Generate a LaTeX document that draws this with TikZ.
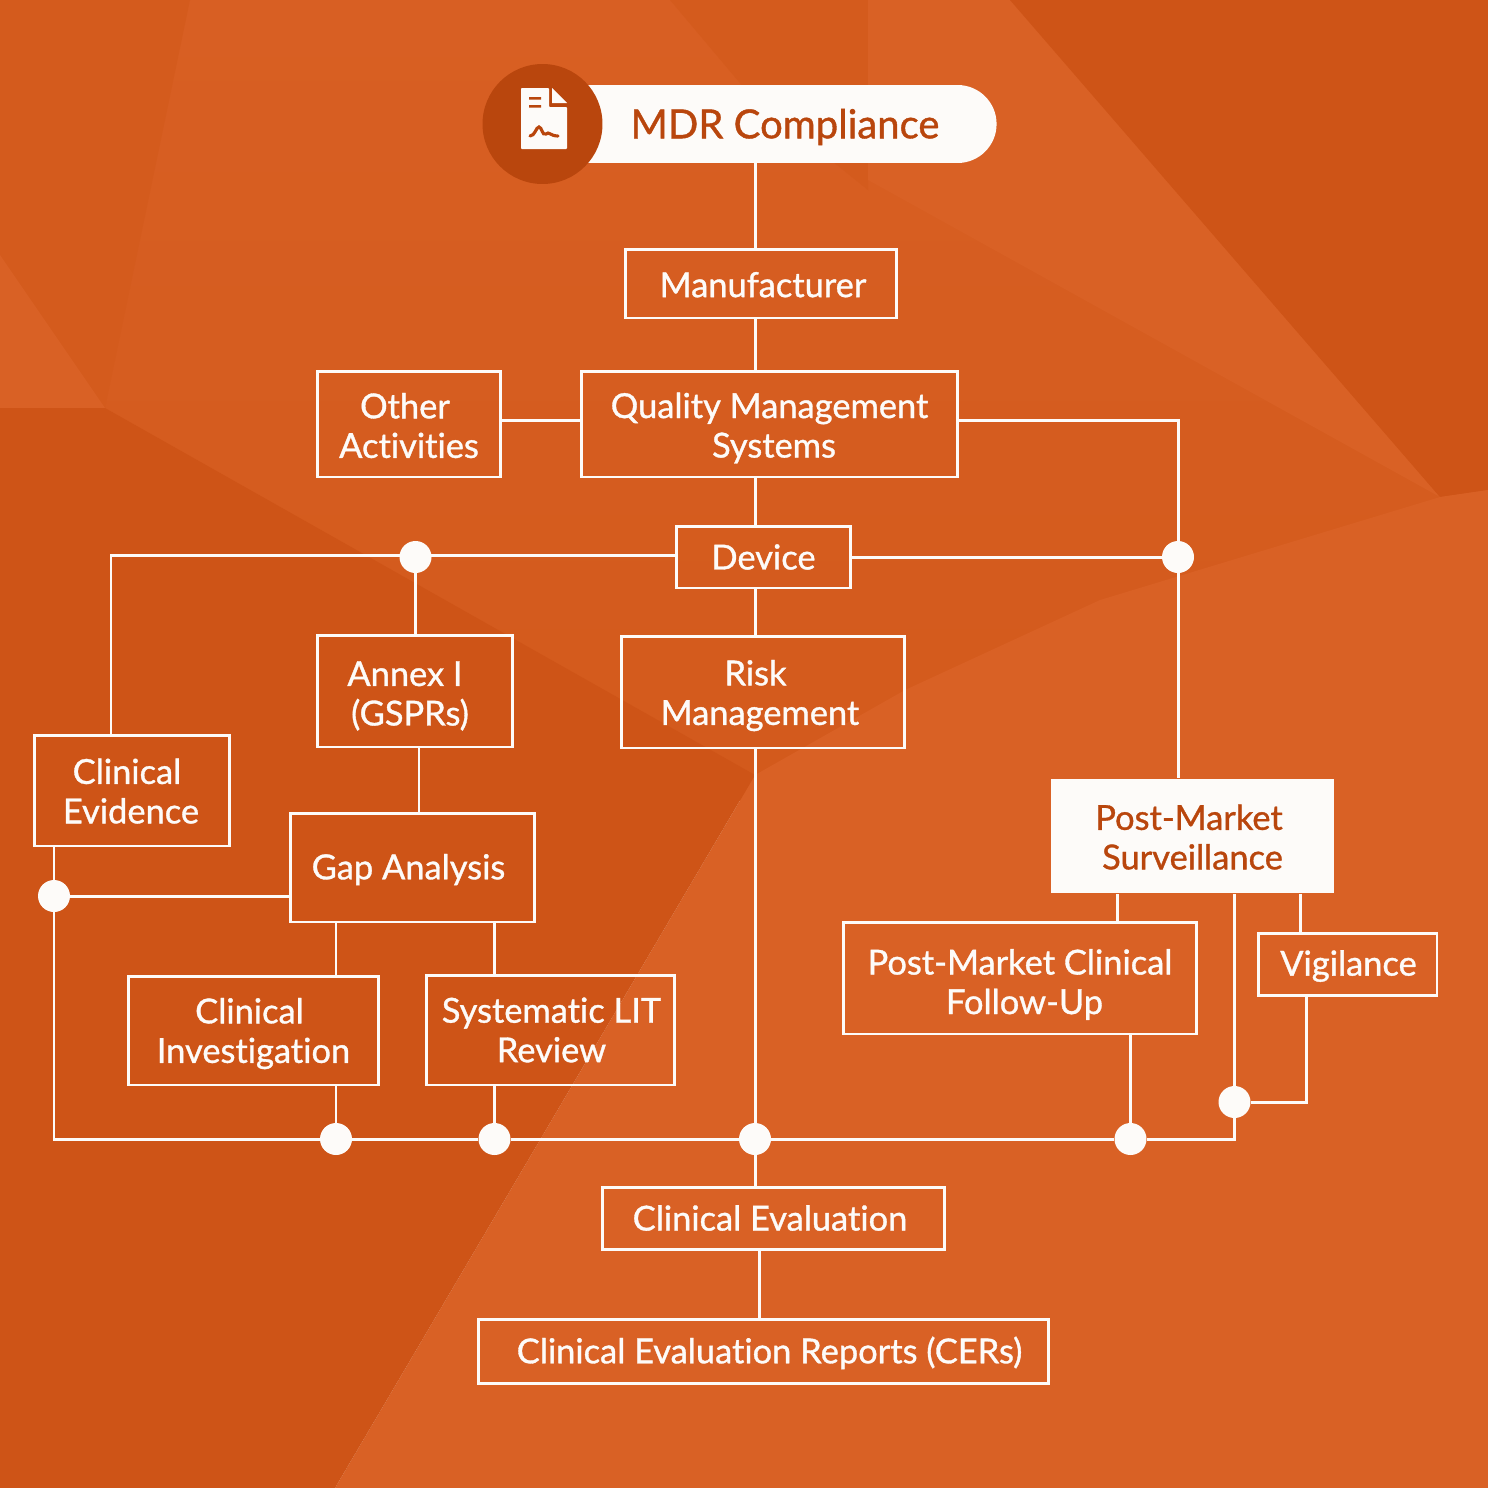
\documentclass[tikz,border=0pt]{standalone}
\usepackage{fontspec}
\usepackage{xcolor}
\setmainfont{Lato}[FakeBold=1,Ligatures=NoCommon]
\usetikzlibrary{shapes.misc,positioning}
\definecolor{basebg}{HTML}{D85F23}
\definecolor{lowbg}{HTML}{D35A1C}
\definecolor{darkbg}{HTML}{CE5417}
\definecolor{midbg}{HTML}{D45B1D}
\definecolor{lightbg}{HTML}{D96125}
\definecolor{rust}{HTML}{B9460D}
\definecolor{paper}{HTML}{FDFBF9}
\newcommand{\nudge}[2][0]{\hspace*{#2\dimexpr 1.138pt\relax}\ifdim #1pt>0pt\rule{0pt}{\dimexpr 14.5pt+#1\dimexpr 1.138pt\relax\relax}\fi}

\begin{document}
\begin{tikzpicture}[
    x=0.02cm, y=-0.02cm,
    wire/.style={draw=paper, line width=1.7pt},
    box/.style={draw=paper, line width=1.7pt, align=center, text=paper, font=\fontsize{19.6}{22.5}\selectfont, inner sep=0pt},
    pmsbox/.style={box, draw=none, fill=paper, text=rust},
    junct/.style={circle, fill=paper, minimum size=0.64cm, inner sep=0pt}
]
    \useasboundingbox (0,0) rectangle (1488,1488);
    % background
    \shade[top color=basebg, bottom color=lowbg] (0,0) rectangle (1488,800);
    \fill[midbg] (0,0) -- (190,0) -- (105,408) -- (0,255) -- cycle;
    \fill[lightbg] (0,255) -- (105,408) -- (0,408) -- cycle;
    \fill[midbg] (670,0) -- (868,0) -- (868,190) -- (750,95) -- cycle;
    \fill[lightbg] (868,0) -- (1010,0) -- (1440,497) -- (868,180) -- cycle;
    \fill[darkbg] (1010,0) -- (1488,0) -- (1488,490) -- (1440,497) -- cycle;
    \fill[lightbg] (1440,497) -- (1488,490) -- (1488,1488) -- (335,1488) -- (755,775) -- (905,690) -- (1100,600) -- cycle;
    \fill[darkbg] (0,408) -- (105,408) -- (755,775) -- (335,1488) -- (0,1488) -- cycle;

    % header
    \node[rounded rectangle, rounded rectangle west arc=none, fill=paper, text=rust, minimum width=8.34cm, minimum height=1.56cm, inner sep=0pt, font=\fontsize{22.8}{26}\selectfont] (mdr) at (785,124) {\nudge[5]{0}MDR Compliance};
    \node[circle, fill=rust, minimum size=2.4cm, inner sep=0pt] (badge) at (542.5,124) {};
    \fill[paper, rounded corners=0.5pt] (521,88) -- (549,88) -- (549,107) -- (567,107) -- (567,149) -- (521,149) -- cycle;
    \fill[paper] (552,88) -- (567,103) -- (552,103) -- cycle;
    \fill[rust] (529,97) rectangle (541,99.5) (529,105) rectangle (541,107.5);
    \draw[rust, line width=1.8pt, line cap=round] (530,136) .. controls (535,136) and (536,127) .. (539,127) .. controls (542,127) and (542,136) .. (546,134) .. controls (549,131) and (550,136) .. (558,136);

    % boxes
    \node[box, minimum width=5.44cm, minimum height=1.38cm] (manu) at (761,283.5) {\nudge[1]{2}Manufacturer};
    \node[box, minimum width=7.54cm, minimum height=2.12cm] (qms) at (769.5,424) {\nudge[4]{0}Quality Management\\\nudge{4.5}Systems};
    \node[box, minimum width=3.68cm, minimum height=2.12cm] (other) at (409,424) {\nudge[1.5]{-4}Other\\Activities};
    \node[box, minimum width=3.5cm, minimum height=1.24cm] (device) at (763.5,557) {Device};
    \node[box, minimum width=3.92cm, minimum height=2.24cm] (annex) at (415,691) {\nudge[4.5]{-10}Annex I\\\nudge{-5}(GSPRs)};
    \node[box, minimum width=5.68cm, minimum height=2.24cm] (risk) at (763,692) {\nudge[3.5]{-7.5}Risk\\\nudge{-3}Management};
    \node[box, minimum width=3.92cm, minimum height=2.22cm] (evid) at (132,790.5) {\nudge[0.5]{-5}Clinical\\\nudge{-1}Evidence};
    \node[box, minimum width=4.9cm, minimum height=2.18cm] (gap) at (412.5,867.5) {\nudge[2]{-4}Gap Analysis};
    \node[box, minimum width=5.02cm, minimum height=2.18cm] (invest) at (253.5,1030.5) {\nudge[3]{-4}Clinical\\Investigation};
    \node[box, minimum width=4.98cm, minimum height=2.2cm] (lit) at (550.5,1030) {\nudge{1}Systematic LIT\\\nudge{1}Review};
    \node[pmsbox, minimum width=5.66cm, minimum height=2.28cm] (pms) at (1192.5,836) {\nudge[1]{-3.5}Post-Market\\Surveillance};
    \node[box, minimum width=7.08cm, minimum height=2.24cm] (pmcf) at (1020,978) {\nudge[6.5]{0}Post-Market Clinical\\\nudge{4.5}Follow-Up};
    \node[box, minimum width=3.58cm, minimum height=1.24cm] (vigil) at (1347.5,964) {\nudge[2]{1}Vigilance};
    \node[box, minimum width=6.86cm, minimum height=1.24cm] (eval) at (773.5,1218) {\nudge{-3.5}Clinical Evaluation};
    \node[box, minimum width=11.42cm, minimum height=1.28cm] (cers) at (763.5,1351) {\nudge[2.5]{6}Clinical Evaluation Reports (CERs)};

    % junctions
    \node[junct] (jannex) at (415.5,557) {};
    \node[junct] (jpms) at (1178,557) {};
    \node[junct] (jevid) at (54,896) {};
    \node[junct] (jinvest) at (336,1139) {};
    \node[junct] (jlit) at (494.5,1139) {};
    \node[junct] (jrisk) at (755,1139) {};
    \node[junct] (jpmcf) at (1130.5,1139) {};
    \node[junct] (jvigil) at (1234.5,1102) {};

    \draw[wire] (755,0 |- mdr.south) -- (755,0 |- manu.north);
    \draw[wire] (755,0 |- manu.south) -- (755,0 |- qms.north);
    \draw[wire] (755,0 |- qms.south) -- (755,0 |- device.north);
    \draw[wire] (755,0 |- device.south) -- (755,0 |- risk.north);
    \draw[wire] (755,0 |- risk.south) -- (jrisk);
    \draw[wire] (jrisk) -- (755,0 |- eval.north);
    \draw[wire] (759,0 |- eval.south) -- (759,0 |- cers.north);
    \draw[wire] (other.east |- 0,420) -- (qms.west |- 0,420);
    \draw[wire] (qms.east |- 0,420) -| (jpms);
    \draw[wire] (jpms) -- (jpms |- pms.north);
    \draw[wire] (device.east) -- (jpms);
    \draw[wire] (device.west |- 0,555) -- (111,555) -- (111,0 |- evid.north);
    \draw[wire] (jannex) -- (jannex |- annex.north);
    \draw[wire] (419,0 |- annex.south) -- (419,0 |- gap.north);
    \draw[wire] (jevid |- evid.south) -- (jevid);
    \draw[wire] (jevid) -- (gap.west |- jevid);
    \draw[wire] (336,0 |- gap.south) -- (336,0 |- invest.north);
    \draw[wire] (jlit |- gap.south) -- (jlit |- lit.north);
    \draw[wire] (jinvest |- invest.south) -- (jinvest);
    \draw[wire] (jlit |- lit.south) -- (jlit);
    \draw[wire] (jevid) |- (jinvest);
    \draw[wire] (jinvest) -- (jlit);
    \draw[wire] (jlit) -- (jrisk);
    \draw[wire] (jrisk) -- (jpmcf);
    \draw[wire] (jpmcf) -| (jvigil);
    \draw[wire] (1117,0 |- pms.south) -- (1117,0 |- pmcf.north);
    \draw[wire] (jvigil |- pms.south) -- (jvigil);
    \draw[wire] (1300,0 |- pms.south) -- (1300,0 |- vigil.north);
    \draw[wire] (jpmcf |- pmcf.south) -- (jpmcf);
    \draw[wire] (1306,0 |- vigil.south) |- (jvigil);
\end{tikzpicture}
\end{document}
